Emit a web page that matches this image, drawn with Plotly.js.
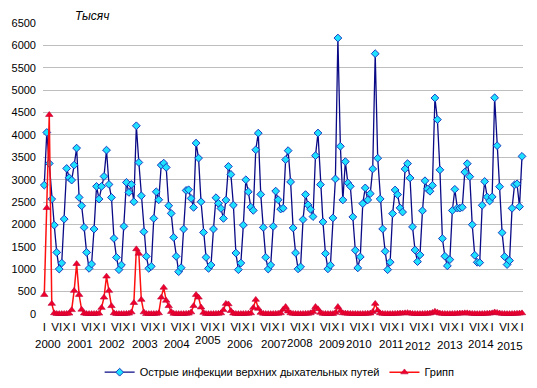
<!DOCTYPE html>
<html>
<head>
<meta charset="utf-8">
<script src="https://cdn.plot.ly/plotly-3.0.1.min.js"></script>
<style>
html,body{margin:0;padding:0;background:#fff;}
#chart{width:537px;height:388px;}
</style>
</head>
<body>
<div id="chart"></div>
<script>
// ---- DATA ----
const years = [2000,2001,2002,2003,2004,2005,2006,2007,2008,2009,2010,2011,2012,2013,2014,2015];
const romanMonths = ["I","II","III","IV","V","VI","VII","VIII","IX","X","XI","XII"];
const labelledMonths = ["I","VI","X"];

// Острые инфекции верхних дыхательных путей (тысяч), Jan 2000 .. Jan 2016
const ari = [
  2879,4055,3363,2567,1986,1376,1004,1138,2120,3251,3043,2991,
  3326,3705,2604,2418,1934,1376,1019,1116,1897,2850,2567,2850,
  3073,3660,2894,2604,1689,1265, 990,1094,1957,2939,2716,2894,
  2507,4204,3385,2641,1838,1287,1019,1064,2135,2730,2552,3326,
  3370,3274,2418,2247,1711,1287, 945,1034,1897,2760,2775,2582,
  2381,3817,3482,2507,1823,1265,1019,1094,1897,2597,2470,2358,
  2135,2544,3296,3117,2433,1362, 990,1138,1986,2998,2730,2388,
  2314,3668,4040,2671,1934,1265,1004,1094,1957,2745,2552,2344,
  2362,3448,3649,2950,1923,1365,1008,1053,2109,2667,2437,2340,
  2176,3537,4043,2890,2057,1350,1008,1090,2146,3017,6164,3746,
  2548,3404,2928,2853,2168,1424,1030,1276,2466,2816,2548,2689,
  3240,5815,3480,2570,1900,1400, 990,1157,2243,2770,2667,2370,
  2277,3240,3359,3039,1946,1429,1170,1320,2306,2976,2794,2742,
  2872,4825,4342,3220,1685,1290,1075,1215,2312,2785,2365,2365,
  2383,3170,3358,3068,1995,1312,1155,1148,2428,2960,2614,2524,
  2617,4830,3760,2844,1817,1282,1104,1193,2361,2885,2908,2398,
  3521
];
// Грипп (тысяч)
const flu = [
   430,2370,4450, 230,  20,   5,   3,   3,   5,   8,  12,  90,
   520,1120, 430, 100,  15,   5,   3,   3,   5,   8,  12, 140,
   370, 840, 520, 180,  20,   5,   3,   3,   5,   8,  12,  40,
   250,1450,1350, 320,  40,   5,   3,   3,   5,   8,  20, 370,
   590, 300, 180,  50,  10,   5,   3,   3,   5,   8,  12,  40,
   180, 430, 370, 150,  30,   5,   3,   3,   5,   8,  10,  20,
    90, 230, 220,  70,  15,   5,   3,   3,   5,   8,  10,  20,
   140, 320, 120,  30,  10,   5,   3,   3,   5,   8,  10,  20,
   100, 160,  60,  20,   8,   5,   3,   3,   5,   8,  10,  20,
    50, 160, 110,  30,   8,   5,   3,   3,   5,  30, 160,  70,
    20,  15,  10,   8,   5,   5,   3,   3,   5,   8,  10,  15,
    50, 230,  80,  20,   8,   5,   3,   3,   5,   8,  10,  15,
    15,  20,  25,  15,   8,   5,   3,   3,   5,   8,  10,  15,
    30,  55,  35,  15,   8,   5,   3,   3,   5,   8,  10,  15,
    15,  20,  20,  12,   8,   5,   3,   3,   5,   8,  10,  15,
    20,  40,  30,  15,   8,   5,   3,   3,   5,   8,  10,  15,
    20
];
const seriesNames = ["Острые инфекции верхних дыхательных путей","Грипп"];
const yTicks = [0,500,1000,1500,2000,2500,3000,3500,4000,4500,5000,5500,6000,6500];

// ---- categories ----
const cats = [];
years.forEach(y => romanMonths.forEach(m => cats.push(m + " " + y)));
cats.push("I 2016");
const tickvals = [], ticktext = [];
cats.forEach(c => { const m = c.split(" ")[0]; if (labelledMonths.includes(m)) { tickvals.push(c); ticktext.push(m); } });

// year label placement (layout only)
const yearPos = [1.6,14.5,27.3,40.4,53.3,65.9,78.8,92.4,102.9,115.6,126.6,139.5,150.3,163.2,175.7,187.3];
const yearDown = [0,0,0,0,0,-4,0,0,-1,0,0,0,2,1,0,2];

const font = "Arial, 'Liberation Sans', sans-serif";

const traces = [
  {
    x: cats, y: ari, name: seriesNames[0], type: "scatter", mode: "lines+markers",
    line: {color: "#0A0A86", width: 1.3},
    marker: {symbol: "diamond", size: 6, color: "#1EE0FF", line: {color: "#1B3CC0", width: 1}},
    cliponaxis: false
  },
  {
    x: cats, y: flu, name: seriesNames[1], type: "scatter", mode: "lines+markers",
    line: {color: "#FF1010", width: 1.5},
    marker: {symbol: "triangle-up", size: 6.5, color: "#F0002A", line: {color: "#C0003A", width: 0.6}},
    cliponaxis: false
  }
];

const annotations = years.map((y, i) => ({
  text: String(y), x: yearPos[i], xref: "x", y: 0, yref: "paper",
  yanchor: "middle", xanchor: "center", yshift: -30 - yearDown[i],
  showarrow: false, font: {family: font, size: 11.5, color: "#000"}
}));
annotations.push({
  text: "<i>Тысяч</i>", x: (92 - 42.7) / 480, xref: "paper", y: 1, yref: "paper", showarrow: false,
  xanchor: "center", yanchor: "middle", yshift: 7, font: {family: font, size: 12, color: "#000"}
});

const layout = {
  width: 537, height: 388,
  margin: {l: 42.7, r: 14.3, t: 23.3, b: 73.5, autoexpand: false},
  paper_bgcolor: "#fff", plot_bgcolor: "#fff",
  showlegend: true,
  legend: {orientation: "h", x: 0.493, xanchor: "center", y: -0.2, yanchor: "middle",
           font: {family: font, size: 11, color: "#000"}, itemwidth: 30, bgcolor: "rgba(0,0,0,0)"},
  xaxis: {
    type: "category", range: [-0.52, 192.4], showgrid: false, zeroline: false, showline: false,
    tickmode: "array", tickvals: tickvals, ticktext: ticktext, ticks: "",
    tickfont: {family: font, size: 11.5, color: "#000"}, tickangle: 0, automargin: false,
    ticklabelstandoff: 4
  },
  yaxis: {
    range: [0, 6500], tickmode: "array", tickvals: yTicks, ticks: "",
    showgrid: true, gridcolor: "#BEBEBE", gridwidth: 1, zeroline: false, showline: false,
    tickfont: {family: font, size: 11, color: "#000"}, ticklabelstandoff: 6, automargin: false
  },
  annotations: annotations
};

Plotly.newPlot("chart", traces, layout, {displayModeBar: false, staticPlot: true});
</script>
</body>
</html>
